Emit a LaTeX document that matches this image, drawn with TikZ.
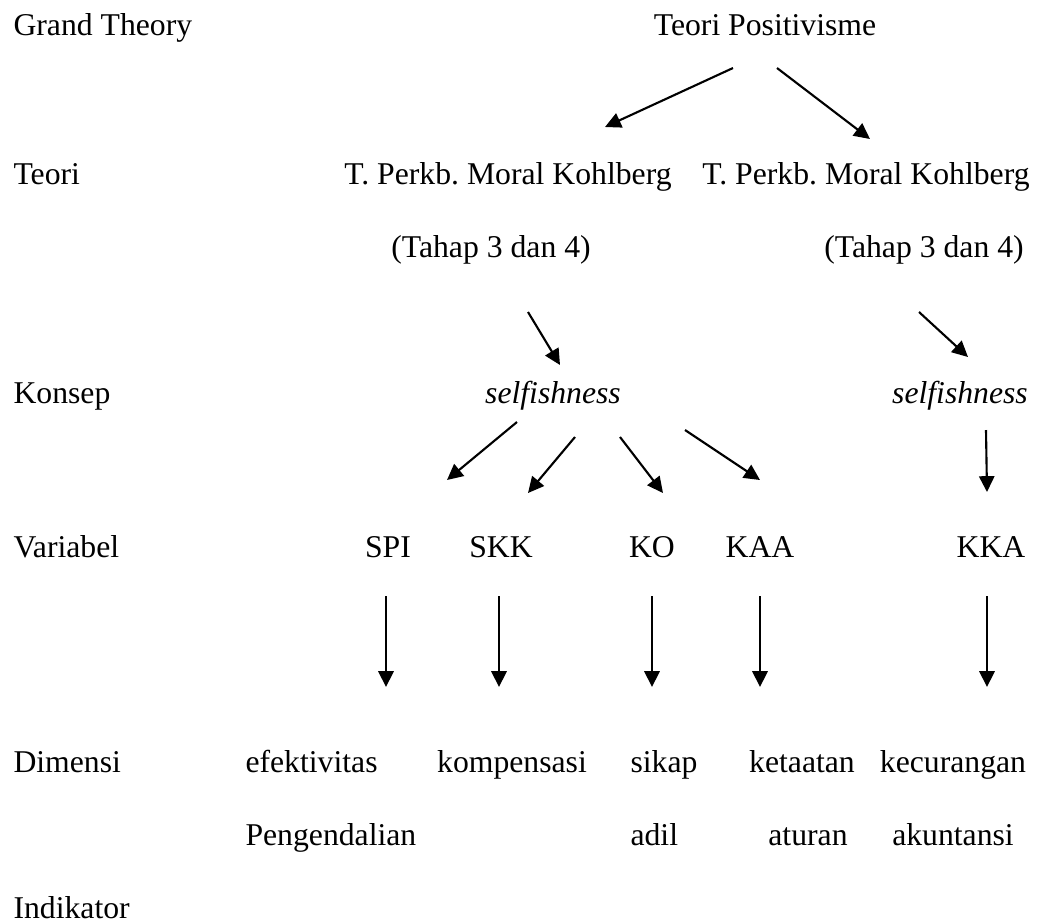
\documentclass[tikz,border=0pt]{standalone}
\usepackage{fontspec}
\setmainfont{Liberation Serif}
\usetikzlibrary{arrows.meta}
\frenchspacing
\begin{document}
\begin{tikzpicture}[>={Triangle[length=6pt,width=5.8pt]},x=0.013306cm,y=-0.013306cm,
		font=\fontsize{12}{14}\selectfont,
		lvl/.style={anchor=base west,inner sep=0pt},
		txt/.style={anchor=base,inner sep=0pt},
		arr/.style={->,line width=0.8pt}]
		\useasboundingbox (0,0) rectangle (1042,923);
		% level names
		\node[lvl] (lgrand) at (13,35) {Grand Theory};
		\node[lvl] (lteori) at (13,184) {Teori};
		\node[lvl] (lkonsep) at (13,403) {Konsep};
		\node[lvl] (lvar) at (13,557) {Variabel};
		\node[lvl] (ldim) at (13,772) {Dimensi};
		\node[lvl] (lind) at (13,918) {Indikator};
		% theories
		\node[txt] (pos) at (765,35) {Teori Positivisme};
		\node[txt] (kohA) at (508,184) {T. Perkb. Moral Kohlberg};
		\node[txt] (kohB) at (866,184) {T. Perkb. Moral Kohlberg};
		\node[txt] (tahA) at (491,257) {(Tahap 3 dan 4)};
		\node[txt] (tahB) at (924,257) {(Tahap 3 dan 4)};
		\node[txt] (selfA) at (553,403) {\itshape selfishness};
		\node[txt] (selfB) at (960,403) {\itshape selfishness};
		% variables
		\node[txt] (spi) at (388,557) {SPI};
		\node[txt] (skk) at (501,557) {SKK};
		\node[txt] (ko) at (652,557) {KO};
		\node[txt] (kaa) at (760,557) {KAA};
		\node[txt] (kka) at (991,557) {KKA};
		% dimensions
		\node[lvl] (efek) at (245,772) {efektivitas};
		\node[lvl] (peng) at (245,845) {Pengendalian};
		\node[txt] (komp) at (512,772) {kompensasi};
		\node[lvl] (sikap) at (630,772) {sikap};
		\node[lvl] (adil) at (630,845) {adil};
		\node[txt] (taat) at (802,772) {ketaatan};
		\node[txt] (atur) at (808,845) {aturan};
		\node[txt] (curang) at (953,772) {kecurangan};
		\node[txt] (akun) at (953,845) {akuntansi};
		% arrow ends
		\coordinate (p1) at (733,68);  \coordinate (p2) at (605,127);
		\coordinate (p3) at (777,68);  \coordinate (p4) at (870,139);
		\coordinate (a1) at (528,312); \coordinate (a2) at (560,365);
		\coordinate (b1) at (919,312); \coordinate (b2) at (968,357);
		\coordinate (s1) at (517,422); \coordinate (s2) at (447,480);
		\coordinate (k1) at (575,437); \coordinate (k2) at (528,493);
		\coordinate (o1) at (620,437); \coordinate (o2) at (663,493);
		\coordinate (t1) at (685,430); \coordinate (t2) at (760,480);
		\coordinate (c1) at (986,430); \coordinate (c2) at (987,492);
		\draw[arr] (p1) -- (p2);
		\draw[arr] (p3) -- (p4);
		\draw[arr] (a1) -- (a2);
		\draw[arr] (b1) -- (b2);
		\draw[arr] (s1) -- (s2);
		\draw[arr] (k1) -- (k2);
		\draw[arr] (o1) -- (o2);
		\draw[arr] (t1) -- (t2);
		\draw[arr] (c1) -- (c2);
		\foreach \x/\n in {386/spi,499/skk,652/ko,760/kaa,987/kka}
		\draw[arr] (\x,596) coordinate (\n top) -- (\x,687) coordinate (\n bot);
		
		\end{tikzpicture}
\end{document}
